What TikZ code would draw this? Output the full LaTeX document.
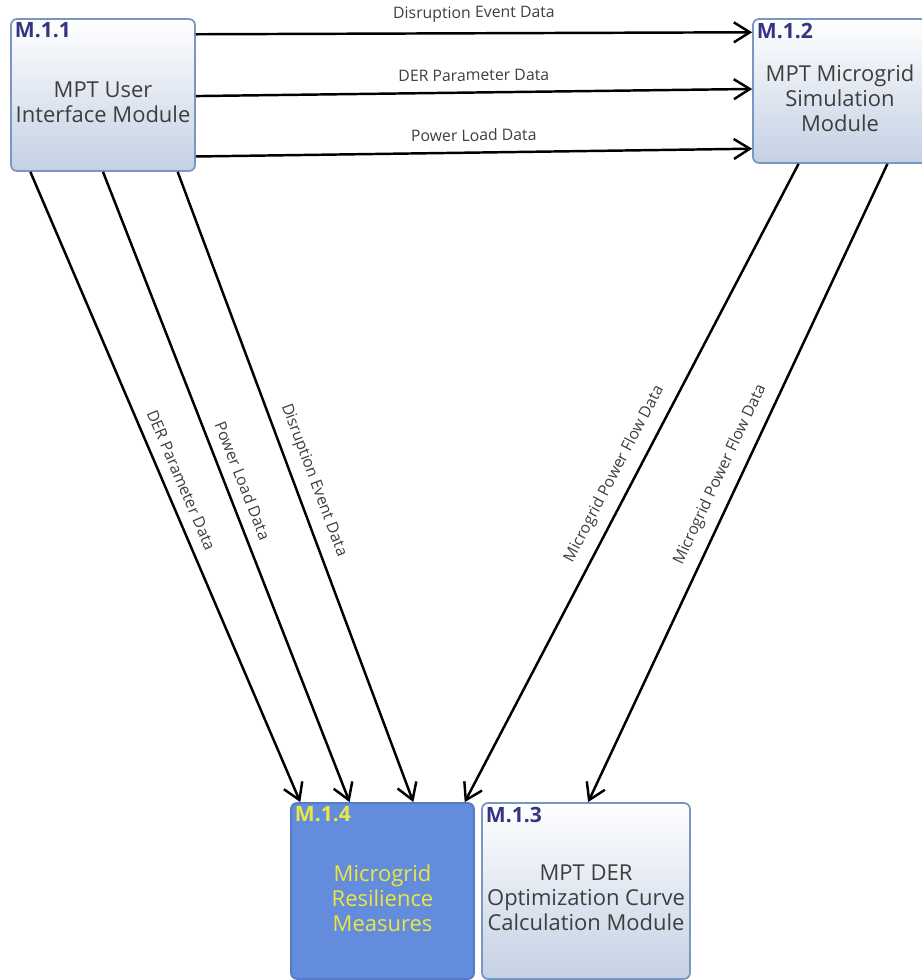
\documentclass[tikz,border=0pt]{standalone}
\usepackage{fontspec}
\setmainfont{Open Sans}
\usepackage{tikz}
\usetikzlibrary{arrows.meta,calc}
\definecolor{boxline}{RGB}{122,150,194}
\definecolor{boxbot}{RGB}{196,208,228}
\definecolor{idblue}{RGB}{52,52,128}
\definecolor{txtgray}{RGB}{62,62,62}
\definecolor{resfill}{RGB}{99,140,220}
\definecolor{resline}{RGB}{84,122,200}
\definecolor{resyellow}{RGB}{238,230,64}
\tikzset{
  modbox/.style={draw=boxline, line width=1pt, rounded corners=0.12cm,
    top color=white, bottom color=boxbot, inner sep=0pt},
  resbox/.style={draw=resline, line width=1pt, rounded corners=0.12cm,
    fill=resfill, inner sep=0pt},
  idlabel/.style={anchor=north west, inner sep=2.5pt, text=idblue,
    font=\fontsize{12}{14}\selectfont\bfseries},
  boxtext/.style={anchor=center, yshift=-0.14cm, align=center, text=txtgray,
    font=\fontsize{12.5}{14.3}\selectfont},
  flow/.style={line width=1.4pt, -{Straight Barb[length=0.32cm,width=0.4cm,line width=1.4pt]}},
  flowlabel/.style={font=\fontsize{9}{10}\selectfont, text=txtgray, above=2.5pt, sloped}
}
\begin{document}
\begin{tikzpicture}[x=0.02cm,y=-0.02cm]
\useasboundingbox (0,0) rectangle (922,980);
\clip (0,0) rectangle (922,980);
% modules
\node[modbox, minimum width=3.68cm, minimum height=3.04cm,
  label={[idlabel]north west:M.1.1},
  label={[boxtext]center:MPT User\\Interface Module}] (ui) at (103,95) {};
\node[modbox, minimum width=3.48cm, minimum height=2.88cm,
  label={[idlabel]north west:M.1.2},
  label={[boxtext]center:MPT Microgrid\\Simulation\\Module}] (sim) at (840,91) {};
\node[resbox, minimum width=3.66cm, minimum height=3.52cm,
  label={[idlabel, text=resyellow]north west:M.1.4},
  label={[boxtext, text=resyellow]center:Microgrid\\Resilience\\Measures}] (res) at (382.5,891) {};
\node[modbox, minimum width=4.16cm, minimum height=3.52cm,
  label={[idlabel]north west:M.1.3},
  label={[boxtext]center:MPT DER\\Optimization Curve\\Calculation Module}] (opt) at (586,891) {};
% top flows
\draw[flow] ($(ui.north east)!0.105!(ui.south east)$) -- node[flowlabel]{Disruption Event Data} ($(sim.north west)!0.097!(sim.south west)$);
\draw[flow] ($(ui.north east)!0.507!(ui.south east)$) -- node[flowlabel]{DER Parameter Data} ($(sim.north west)!0.486!(sim.south west)$);
\draw[flow] ($(ui.north east)!0.9!(ui.south east)$) -- node[flowlabel]{Power Load Data} ($(sim.north west)!0.896!(sim.south west)$);
% down to resilience
\draw[flow] ($(ui.south west)!0.109!(ui.south east)$) -- node[flowlabel]{DER Parameter Data} ($(res.north west)!0.055!(res.north east)$);
\draw[flow] ($(ui.south west)!0.5!(ui.south east)$) -- node[flowlabel]{Power Load Data} ($(res.north west)!0.322!(res.north east)$);
\draw[flow] ($(ui.south west)!0.902!(ui.south east)$) -- node[flowlabel]{Disruption Event Data} ($(res.north west)!0.667!(res.north east)$);
\draw[flow] ($(sim.south west)!0.264!(sim.south east)$) -- node[flowlabel]{Microgrid Power Flow Data} ($(res.north west)!0.945!(res.north east)$);
\draw[flow] ($(sim.south west)!0.77!(sim.south east)$) -- node[flowlabel]{Microgrid Power Flow Data} ($(opt.north west)!0.51!(opt.north east)$);
\end{tikzpicture}
\end{document}
